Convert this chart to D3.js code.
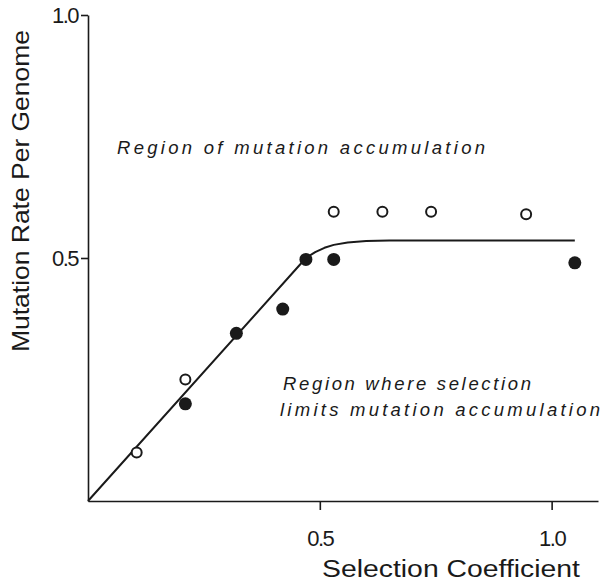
<!DOCTYPE html>
<html>
<head>
<meta charset="utf-8">
<script src="https://cdn.jsdelivr.net/npm/d3@7"></script>
<style>
  body { margin: 0; background: #fff; }
  svg { display: block; font-family: "Liberation Sans", Arial, sans-serif; }
  .axis path, .axis line { stroke: #1a1a1a; stroke-width: 1.6; }
  .axis text { fill: #1a1a1a; font-size: 22px; font-family: "Liberation Sans", Arial, sans-serif; }
  .note { font-style: italic; font-size: 18.5px; fill: #1a1a1a; }
</style>
</head>
<body>
<svg width="605" height="582"></svg>
<script>
// open circles
const openX = [0.105, 0.21, 0.53, 0.635, 0.74, 0.945];
const openY = [0.10, 0.25, 0.595, 0.595, 0.595, 0.59];
// filled circles
const filledX = [0.21, 0.32, 0.42, 0.47, 0.53, 1.05];
const filledY = [0.20, 0.345, 0.395, 0.497, 0.497, 0.49];
// fitted curve (straight rise, short bend, plateau)
const curveX = [0, 0.47, 0.49, 0.51, 0.53, 0.56, 0.6, 0.65, 1.05];
const curveY = [0, 0.5, 0.512, 0.521, 0.527, 0.532, 0.535, 0.536, 0.536];
const ticks = [0.5, 1.0];

const svg = d3.select("svg");

const x = d3.scaleLinear().domain([0, 1.1]).range([88, 598]);
const y = d3.scaleLinear().domain([0, 1]).range([501, 15]);

// axes
svg.append("g")
  .attr("class", "axis")
  .attr("transform", `translate(0, ${y(0)})`)
  .call(d3.axisBottom(x).tickValues(ticks).tickSize(9).tickSizeOuter(0)
    .tickPadding(20).tickFormat(d3.format(".1f")));

svg.append("g")
  .attr("class", "axis")
  .attr("transform", `translate(${x(0)}, 0)`)
  .call(d3.axisLeft(y).tickValues(ticks).tickSize(7).tickSizeOuter(0)
    .tickPadding(3).tickFormat(d3.format(".1f")));

svg.selectAll(".axis text").attr("letter-spacing", -1.5);

// axis titles
svg.append("text")
  .attr("x", 451)
  .attr("y", 577)
  .attr("text-anchor", "middle")
  .attr("font-size", 23)
  .attr("fill", "#1a1a1a")
  .attr("textLength", 258)
  .attr("lengthAdjust", "spacingAndGlyphs")
  .text("Selection Coefficient");

svg.append("text")
  .attr("transform", "translate(29, 191) rotate(-90)")
  .attr("text-anchor", "middle")
  .attr("font-size", 24)
  .attr("fill", "#1a1a1a")
  .attr("textLength", 322)
  .attr("lengthAdjust", "spacingAndGlyphs")
  .text("Mutation Rate Per Genome");

// curve
const line = d3.line()
  .x((d) => x(d[0]))
  .y((d) => y(d[1]));

svg.append("path")
  .datum(curveX.map((v, i) => [v, curveY[i]]))
  .attr("d", line)
  .attr("fill", "none")
  .attr("stroke", "#1a1a1a")
  .attr("stroke-width", 2)
  .attr("stroke-linejoin", "round");

// points
svg.append("g")
  .selectAll("circle")
  .data(openX.map((v, i) => [v, openY[i]]))
  .enter()
  .append("circle")
  .attr("cx", (d) => x(d[0]))
  .attr("cy", (d) => y(d[1]))
  .attr("r", 5)
  .attr("fill", "#fff")
  .attr("stroke", "#1a1a1a")
  .attr("stroke-width", 2);

svg.append("g")
  .selectAll("circle")
  .data(filledX.map((v, i) => [v, filledY[i]]))
  .enter()
  .append("circle")
  .attr("cx", (d) => x(d[0]))
  .attr("cy", (d) => y(d[1]))
  .attr("r", 6.5)
  .attr("fill", "#1a1a1a");

// annotations
const notes = [
  { text: "Region of mutation accumulation", x: 117, y: 154, w: 368 },
  { text: "Region where selection", x: 283, y: 390, w: 248 },
  { text: "limits mutation accumulation", x: 280, y: 416, w: 320 }
];

svg.selectAll(".note")
  .data(notes)
  .enter()
  .append("text")
  .attr("class", "note")
  .attr("x", (d) => d.x)
  .attr("y", (d) => d.y)
  .attr("textLength", (d) => d.w)
  .attr("lengthAdjust", "spacing")
  .text((d) => d.text);
</script>
</body>
</html>
